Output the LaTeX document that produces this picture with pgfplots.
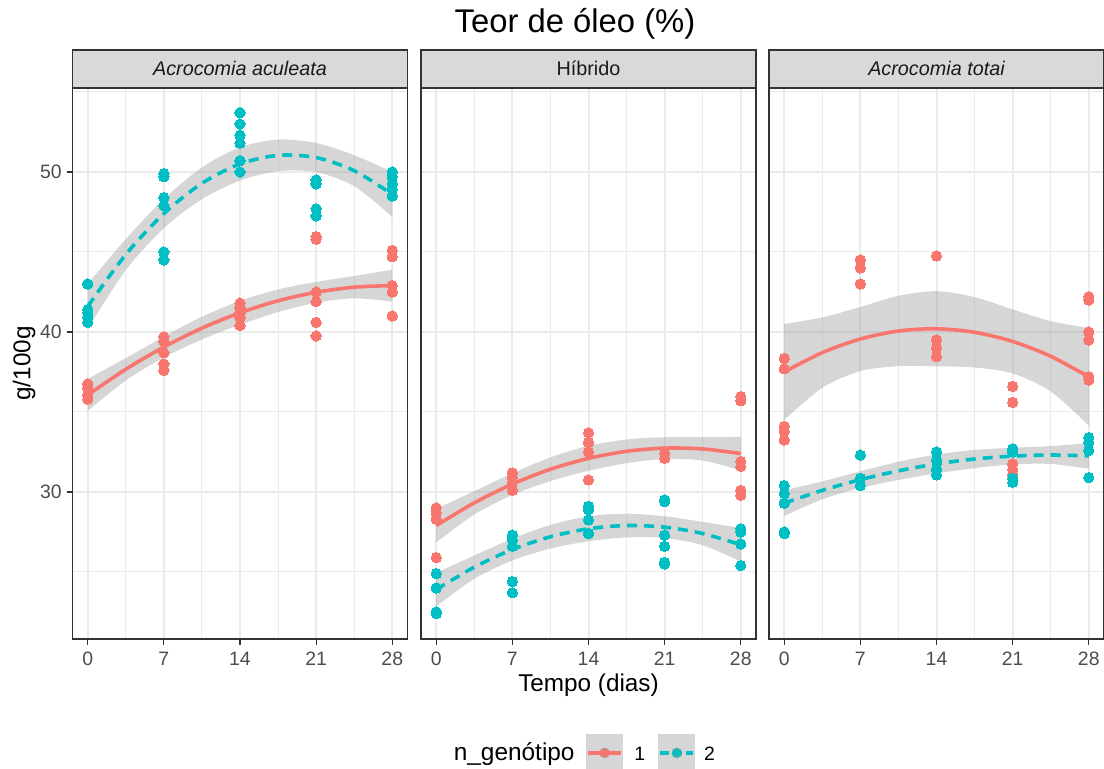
\documentclass[border=0pt]{standalone}
\usepackage{fontspec}
\setmainfont{Liberation Sans}
\usepackage{pgfplots}
\pgfplotsset{compat=1.18}
\usepackage{pgfplotstable}
\usepgfplotslibrary{fillbetween}
\definecolor{c1}{HTML}{F8766D}
\definecolor{c2}{HTML}{00BFC4}
\definecolor{gtwenty}{HTML}{333333}
\definecolor{gthirty}{HTML}{4D4D4D}
\definecolor{gten}{HTML}{1A1A1A}
\definecolor{gridmaj}{HTML}{EBEBEB}
\definecolor{stripfill}{HTML}{D9D9D9}
\definecolor{ribbon}{HTML}{999999}

% ---------- points ----------
\pgfplotstableread{
x y
0 36.75
0 36.5
0 36.06
0 35.8
7 39.7
7 39.4
7 38.7
7 38.0
7 37.6
14 41.8
14 41.5
14 41.2
14 40.9
14 40.4
21 45.96
21 45.8
21 42.5
21 41.9
21 40.6
21 39.75
28 45.1
28 44.7
28 42.9
28 42.5
28 41.0
}\ptsAcuOne
\pgfplotstableread{
x y
0 43.0
0 41.4
0 41.2
0 40.9
0 40.6
7 49.9
7 49.7
7 48.4
7 47.9
7 45.0
7 44.5
14 53.7
14 53.0
14 52.3
14 51.8
14 50.7
14 50.0
21 49.5
21 49.25
21 47.7
21 47.25
28 50.0
28 49.7
28 49.25
28 48.9
28 48.5
}\ptsAcuTwo
\pgfplotstableread{
x y
0 29.0
0 28.7
0 28.3
0 25.9
7 31.2
7 30.9
7 30.6
7 30.1
14 33.7
14 33.1
14 32.5
14 30.75
21 32.4
21 32.1
28 35.96
28 35.7
28 31.9
28 31.6
28 30.1
28 29.8
}\ptsHibOne
\pgfplotstableread{
x y
0 24.9
0 24.0
0 22.5
0 22.4
7 27.3
7 27.0
7 26.6
7 24.4
7 23.7
14 29.1
14 28.9
14 28.25
14 27.4
21 29.5
21 29.4
21 27.3
21 26.6
21 25.6
21 25.5
28 27.7
28 27.5
28 26.75
28 25.4
}\ptsHibTwo
\pgfplotstableread{
x y
0 38.35
0 37.7
0 34.1
0 33.8
0 33.25
7 44.5
7 44.0
7 43.0
14 44.75
14 39.5
14 38.98
14 38.45
21 36.6
21 35.6
21 31.75
21 31.4
21 31.06
28 42.2
28 42.0
28 40.0
28 39.5
28 37.2
28 37.0
}\ptsTotOne
\pgfplotstableread{
x y
0 30.4
0 29.9
0 29.3
0 27.5
0 27.4
7 32.3
7 30.85
7 30.4
14 32.5
14 32.0
14 31.4
14 31.06
21 32.7
21 32.5
21 30.85
21 30.6
28 33.4
28 33.1
28 32.6
28 30.9
}\ptsTotTwo

% ---------- fitted curves and bands ----------
\pgfplotstableread{
x fit lo hi
0 36.06 35.06 37.06
3.5 37.67 36.97 38.37
7 39.06 38.41 39.71
10.5 40.24 39.53 40.95
14 41.20 40.46 41.94
17.5 41.95 41.24 42.66
21 42.48 41.83 43.13
24.5 42.80 42.10 43.50
28 42.90 41.90 43.90
}\fitAcuOne
\pgfplotstableread{
x fit lo hi
0 41.60 40.20 43.00
3.5 44.84 43.87 45.81
7 47.40 46.49 48.31
10.5 49.29 48.30 50.28
14 50.50 49.46 51.54
17.5 51.04 50.05 52.03
21 50.90 49.99 51.81
24.5 50.08 49.11 51.05
28 48.60 47.20 50.00
}\fitAcuTwo
\pgfplotstableread{
x fit lo hi
0 27.90 26.85 28.95
3.5 29.32 28.59 30.05
7 30.49 29.81 31.17
10.5 31.42 30.68 32.16
14 32.10 31.32 32.88
17.5 32.54 31.80 33.28
21 32.74 32.06 33.42
24.5 32.69 31.96 33.42
28 32.40 31.35 33.45
}\fitHibOne
\pgfplotstableread{
x fit lo hi
0 23.90 22.85 24.95
3.5 25.30 24.57 26.03
7 26.40 25.72 27.08
10.5 27.20 26.46 27.94
14 27.70 26.92 28.48
17.5 27.90 27.16 28.64
21 27.80 27.12 28.48
24.5 27.40 26.67 28.13
28 26.70 25.65 27.75
}\fitHibTwo
\pgfplotstableread{
x fit lo hi
0 37.50 34.50 40.50
3.5 38.71 36.51 40.91
7 39.56 37.56 41.56
10.5 40.06 37.86 42.26
14 40.20 37.85 42.55
17.5 39.98 37.78 42.18
21 39.41 37.41 41.41
24.5 38.48 36.28 40.68
28 37.20 34.15 40.25
}\fitTotOne
\pgfplotstableread{
x fit lo hi
0 29.30 28.50 30.10
3.5 30.10 29.54 30.66
7 30.77 30.25 31.29
10.5 31.32 30.75 31.89
14 31.75 31.16 32.34
17.5 32.06 31.49 32.63
21 32.24 31.72 32.76
24.5 32.31 31.75 32.87
28 32.25 31.45 33.05
}\fitTotTwo

\pgfplotsset{
  panel/.style={
    anchor=south west,
    width=167.5pt, height=275.5pt, scale only axis,
    xmin=-1.4, xmax=29.4, ymin=20.81, ymax=55.25,
    xtick={0,7,14,21,28}, minor xtick={3.5,10.5,17.5,24.5},
    ytick={30,40,50}, minor ytick={25,35,45,55},
    xtick pos=bottom, ytick pos=left,
    grid=both,
    major grid style={draw=gridmaj, line width=1pt},
    minor grid style={draw=gridmaj, line width=0.5pt},
    tick align=outside, major tick length=3pt, minor tick length=0pt,
    tick style={draw=gtwenty, line width=0.6pt},
    axis line style={draw=gtwenty, line width=0.6pt},
    ticklabel style={font=\fontsize{9.7}{11}\selectfont, text=gthirty},
    /pgf/number format/assume math mode=true,
    xticklabel style={anchor=north, inner sep=0pt, yshift=-3.3pt},
    yticklabel style={anchor=east, inner sep=0pt, xshift=-2.2pt},
  },
  pts/.style={forget plot, only marks, mark=*, mark size=2.6pt,
    mark options={fill=#1, draw=#1, line width=0pt}},
  band/.style={forget plot, fill=ribbon, fill opacity=0.4, draw=none},
  edge/.style={forget plot, draw=none, smooth},
  fitline/.style={forget plot, smooth, color=#1, line width=1.8pt},
}

\begin{document}
\begin{tikzpicture}

% ---------------- panel 1 ----------------
\begin{axis}[panel, name=p1, at={(36.25pt,65pt)},
  ylabel={g/100g},
  ylabel style={at={(axis description cs:-0.1257,0.5)}, anchor=base,
    font=\fontsize{12.15}{14}\selectfont},
]
\addplot[pts=c1] table[x=x,y=y] {\ptsAcuOne};
\addplot[pts=c2] table[x=x,y=y] {\ptsAcuTwo};
\addplot[edge, name path=ua] table[x=x,y=hi] {\fitAcuOne};
\addplot[edge, name path=la] table[x=x,y=lo] {\fitAcuOne};
\addplot[band] fill between[of=ua and la];
\addplot[fitline=c1] table[x=x,y=fit] {\fitAcuOne};
\addplot[edge, name path=ub] table[x=x,y=hi] {\fitAcuTwo};
\addplot[edge, name path=lb] table[x=x,y=lo] {\fitAcuTwo};
\addplot[band] fill between[of=ub and lb];
\addplot[fitline=c2, dash pattern=on 5pt off 3.5pt] table[x=x,y=fit] {\fitAcuTwo};
\end{axis}

% ---------------- panel 2 ----------------
\begin{axis}[panel, name=p2, at={(210.5pt,65pt)},
  yticklabels={}, ytick style={draw=none},
  xlabel={Tempo (dias)},
  xlabel style={at={(axis description cs:0.5,-0.0962)}, anchor=base,
    font=\fontsize{12.15}{14}\selectfont},
  legend columns=-1,
  legend style={at={(axis description cs:0.098,-0.2042)}, anchor=west,
    draw=none, fill=none, inner sep=0pt, outer sep=0pt,
    nodes={inner sep=0pt},
    cells={anchor=base west, inner sep=0pt},
    font=\fontsize{9.7}{11}\selectfont,
    /tikz/column 2/.style={column sep=5.75pt},
    /tikz/column 3/.style={column sep=5.7pt},
    /tikz/column 4/.style={column sep=6.5pt},
    /tikz/column 5/.style={column sep=4.4pt}},
]
\addplot[pts=c1] table[x=x,y=y] {\ptsHibOne};
\addplot[pts=c2] table[x=x,y=y] {\ptsHibTwo};
\addplot[edge, name path=uc] table[x=x,y=hi] {\fitHibOne};
\addplot[edge, name path=lc] table[x=x,y=lo] {\fitHibOne};
\addplot[band] fill between[of=uc and lc];
\addplot[fitline=c1] table[x=x,y=fit] {\fitHibOne};
\addplot[edge, name path=ud] table[x=x,y=hi] {\fitHibTwo};
\addplot[edge, name path=ld] table[x=x,y=lo] {\fitHibTwo};
\addplot[band] fill between[of=ud and ld];
\addplot[fitline=c2, dash pattern=on 5pt off 3.5pt] table[x=x,y=fit] {\fitHibTwo};
\addlegendimage{empty legend}
\addlegendentry{\fontsize{12.2}{14}\selectfont n\_genótipo}
\addlegendimage{legend image code/.code={
  \path[fill=white, draw=none] (0pt,-4.15pt) rectangle (18.5pt,13.35pt);
  \path[fill=c1, draw=none] (9.25pt,3.9pt) circle (2.6pt);
  \path[fill=ribbon, fill opacity=0.4, draw=none] (0pt,-4.15pt) rectangle (18.5pt,13.35pt);
  \path[draw=c1, line width=1.8pt] (1pt,3.9pt) -- (17.5pt,3.9pt);
}}
\addlegendentry{1}
\addlegendimage{legend image code/.code={
  \path[fill=white, draw=none] (0pt,-4.15pt) rectangle (18.5pt,13.35pt);
  \path[fill=c2, draw=none] (9.25pt,3.9pt) circle (2.6pt);
  \path[fill=ribbon, fill opacity=0.4, draw=none] (0pt,-4.15pt) rectangle (18.5pt,13.35pt);
  \path[draw=c2, line width=1.8pt, dash pattern=on 4.5pt off 2pt] (1pt,3.9pt) -- (17.5pt,3.9pt);
}}
\addlegendentry{2}
\end{axis}

% ---------------- panel 3 ----------------
\begin{axis}[panel, name=p3, at={(384.5pt,65pt)},
  yticklabels={}, ytick style={draw=none},
]
\addplot[pts=c1] table[x=x,y=y] {\ptsTotOne};
\addplot[pts=c2] table[x=x,y=y] {\ptsTotTwo};
\addplot[edge, name path=ue] table[x=x,y=hi] {\fitTotOne};
\addplot[edge, name path=le] table[x=x,y=lo] {\fitTotOne};
\addplot[band] fill between[of=ue and le];
\addplot[fitline=c1] table[x=x,y=fit] {\fitTotOne};
\addplot[edge, name path=uf] table[x=x,y=hi] {\fitTotTwo};
\addplot[edge, name path=lf] table[x=x,y=lo] {\fitTotTwo};
\addplot[band] fill between[of=uf and lf];
\addplot[fitline=c2, dash pattern=on 5pt off 3.5pt] table[x=x,y=fit] {\fitTotTwo};
\end{axis}

% ---------------- strips ----------------
\draw[gtwenty, line width=0.6pt, fill=stripfill] (p1.north west) rectangle ([yshift=19pt]p1.north east);
\draw[gtwenty, line width=0.6pt, fill=stripfill] (p2.north west) rectangle ([yshift=19pt]p2.north east);
\draw[gtwenty, line width=0.6pt, fill=stripfill] (p3.north west) rectangle ([yshift=19pt]p3.north east);
\node[anchor=base, inner sep=0pt, text=gten, font=\fontsize{9.9}{11}\selectfont\itshape] at ([yshift=6pt]p1.north) {Acrocomia aculeata};
\node[anchor=base, inner sep=0pt, text=gten, font=\fontsize{9.9}{11}\selectfont] at ([yshift=6pt]p2.north) {Híbrido};
\node[anchor=base, inner sep=0pt, text=gten, font=\fontsize{9.9}{11}\selectfont\itshape] at ([yshift=6pt]p3.north) {Acrocomia totai};

% ---------------- title ----------------
\node[anchor=base, inner sep=0pt, font=\fontsize{16.4}{19}\selectfont] at (287.5pt,368pt) {Teor de óleo (\%)};

\pgfresetboundingbox
\path[use as bounding box] (0,0) rectangle (552pt,384.5pt);
\end{tikzpicture}
\end{document}
